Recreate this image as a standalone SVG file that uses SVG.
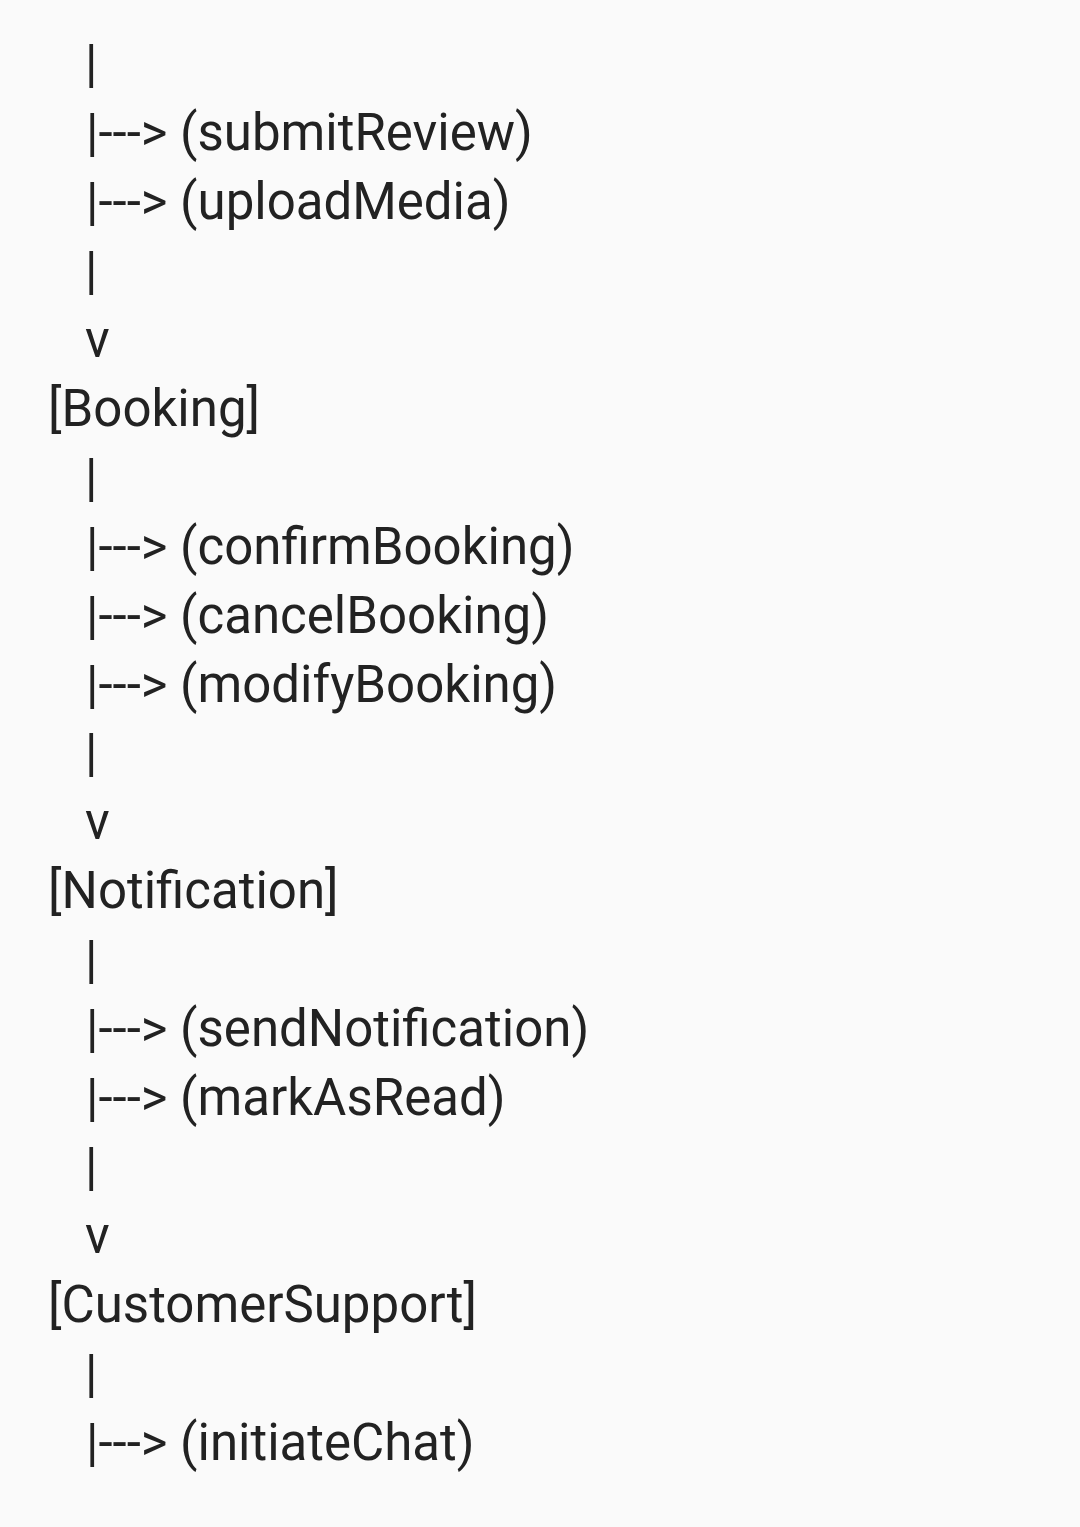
<svg xmlns="http://www.w3.org/2000/svg" width="1080" height="1527" viewBox="0 0 1080 1527">
<style>
text{font-family:Roboto,"Noto Sans",sans-serif;font-size:51px;fill:#222}
</style>
<rect width="1080" height="1527" fill="#fafafa"/>
<g id="connectors">
<text x="85" y="81">|</text>
<text x="85" y="288">|</text>
<text x="85" y="357">v</text>
<text x="85" y="495">|</text>
<text x="85" y="770">|</text>
<text x="85" y="839">v</text>
<text x="85" y="977">|</text>
<text x="85" y="1184">|</text>
<text x="85" y="1253">v</text>
<text x="85" y="1391">|</text>
</g>
<g id="node-submitReview"><text x="86" y="150">|---&gt; (submitReview)</text></g>
<g id="node-uploadMedia"><text x="86" y="219">|---&gt; (uploadMedia)</text></g>
<g id="node-Booking"><text x="48" y="426">[Booking]</text></g>
<g id="node-confirmBooking"><text x="86" y="564">|---&gt; (confirmBooking)</text></g>
<g id="node-cancelBooking"><text x="86" y="633">|---&gt; (cancelBooking)</text></g>
<g id="node-modifyBooking"><text x="86" y="702">|---&gt; (modifyBooking)</text></g>
<g id="node-Notification"><text x="48" y="908">[Notification]</text></g>
<g id="node-sendNotification"><text x="86" y="1046">|---&gt; (sendNotification)</text></g>
<g id="node-markAsRead"><text x="86" y="1115">|---&gt; (markAsRead)</text></g>
<g id="node-CustomerSupport"><text x="48" y="1322">[CustomerSupport]</text></g>
<g id="node-initiateChat"><text x="86" y="1460">|---&gt; (initiateChat)</text></g>
</svg>
